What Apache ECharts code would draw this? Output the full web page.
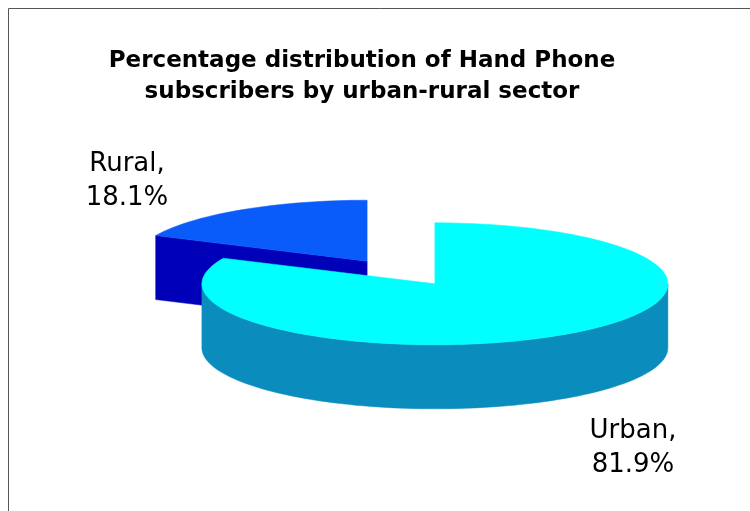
<!DOCTYPE html>
<html><head><meta charset="utf-8">
<script src="https://cdn.jsdelivr.net/npm/echarts@6/dist/echarts.min.js"></script>
<style>html,body{margin:0;padding:0;background:#fff}#c{width:750px;height:511px}</style>
</head><body><div id="c"></div>
<script>
// ---- data ----
const categories = ['Urban', 'Rural'];
const values = [81.9, 18.1];
const titleLines = ['Percentage distribution of Hand Phone', 'subscribers by urban-rural sector'];

// ---- style ----
const topColors = ['#00FFFF', '#0A5CFA'];
const sideColors = ['#0A8CBC', '#0000B8'];
const FONT = 'DejaVu Sans';

// ---- layout ----
const CX = 401, CY = 272.5, RX = 233, RY = 61, DEPTH = 64, EX = 0.27, EY = 0.22;
const labelAnchor = { Urban: [633, 448], Rural: [127, 181] };

const total = values.reduce((a, b) => a + b, 0);
const starts = [];
let acc = 0;
values.forEach(v => { starts.push(acc / total * 360); acc += v; });

const rad = d => d * Math.PI / 180;
function pt(cx, cy, a, dy) { return [cx + RX * Math.sin(rad(a)), cy - RY * Math.cos(rad(a)) + (dy || 0)]; }
function arc(cx, cy, a0, a1, dy) {
  const pts = [], n = Math.max(2, Math.ceil(Math.abs(a1 - a0) / 2));
  for (let k = 0; k <= n; k++) pts.push(pt(cx, cy, a0 + (a1 - a0) * k / n, dy));
  return pts;
}

function renderItem(params, api) {
  const i = params.dataIndex;
  const v = api.value(0);
  const a0 = starts[i], a1 = a0 + v / total * 360, mid = (a0 + a1) / 2;
  const cx = CX + EX * RX * Math.sin(rad(mid));
  const cy = CY - EY * RY * Math.cos(rad(mid));
  const base = Math.round(cy) * 10;
  const children = [];
  const side = { fill: sideColors[i], stroke: sideColors[i], lineWidth: 0.5 };
  // radial faces facing the viewer
  if (Math.sin(rad(a0)) < -1e-6) {
    const p = pt(cx, cy, a0);
    children.push({ type: 'polygon', z2: base, shape: { points: [[cx, cy], p, [p[0], p[1] + DEPTH], [cx, cy + DEPTH]] }, style: side });
  }
  if (Math.sin(rad(a1)) > 1e-6) {
    const p = pt(cx, cy, a1);
    children.push({ type: 'polygon', z2: base, shape: { points: [[cx, cy], p, [p[0], p[1] + DEPTH], [cx, cy + DEPTH]] }, style: side });
  }
  // outer front wall (angles 90..270)
  const w0 = Math.max(a0, 90), w1 = Math.min(a1, 270);
  if (w1 > w0) {
    const topArc = arc(cx, cy, w0, w1, 0);
    const botArc = arc(cx, cy, w0, w1, DEPTH).reverse();
    children.push({ type: 'polygon', z2: base + 1, shape: { points: topArc.concat(botArc) }, style: side });
  }
  // top surface
  children.push({ type: 'polygon', z2: base + 2, shape: { points: [[cx, cy]].concat(arc(cx, cy, a0, a1, 0)) },
    style: { fill: topColors[i], stroke: topColors[i], lineWidth: 0.5 } });
  // label
  const la = labelAnchor[categories[i]];
  children.push({ type: 'text', z2: base + 3, x: la[0], y: la[1],
    style: { text: categories[i] + ',\n' + v.toFixed(1) + '%', fill: '#000', font: '26px "' + FONT + '"',
      align: 'center', verticalAlign: 'middle', lineHeight: 34 } });
  return { type: 'group', children };
}

const chart = echarts.init(document.getElementById('c'), null, { renderer: 'canvas' });
chart.setOption({
  backgroundColor: '#fff',
  animation: false,
  title: {
    text: titleLines.join('\n'),
    left: 357, top: 41, textAlign: 'center',
    textStyle: { fontFamily: FONT, fontWeight: 'bold', fontSize: 23, lineHeight: 31, color: '#000' }
  },
  graphic: [{ type: 'rect', shape: { x: 8.5, y: 8.5, width: 800, height: 600 }, style: { fill: 'none', stroke: '#555', lineWidth: 1 }, silent: true }],
  series: [{
    type: 'custom',
    coordinateSystem: 'none',
    renderItem: renderItem,
    data: values.map((v, i) => ({ name: categories[i], value: [v] }))
  }]
});
</script></body></html>
